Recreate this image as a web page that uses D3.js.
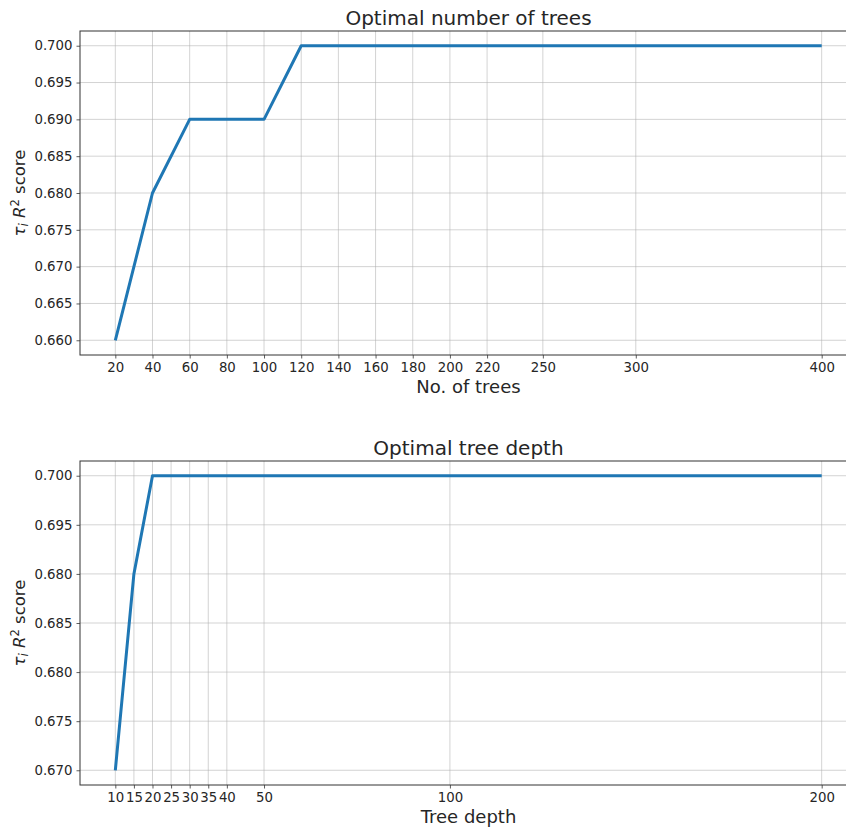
<!DOCTYPE html>
<html>

<head>
  <script src="https://d3js.org/d3.v7.min.js"></script>
  <style>
    body { margin: 0; background: #fff; }
    text { font-family: "DejaVu Sans", sans-serif; fill: #262626; }
    .grid line { stroke: #b0b0b0; stroke-width: 0.8; stroke-opacity: 0.7; }
  </style>
</head>

<body>
  <script>
    const width = 846;
    const height = 830;

    // chart 1: number of trees
    const treeCounts = [20, 40, 60, 80, 100, 120, 140, 160, 180, 200, 220, 250, 300, 400];
    const treeScores = [0.660, 0.680, 0.690, 0.690, 0.690, 0.700, 0.700, 0.700, 0.700, 0.700, 0.700, 0.700, 0.700, 0.700];
    const treeYTicks = [0.660, 0.665, 0.670, 0.675, 0.680, 0.685, 0.690, 0.695, 0.700];
    const treeYLabels = ["0.660", "0.665", "0.670", "0.675", "0.680", "0.685", "0.690", "0.695", "0.700"];

    // chart 2: tree depth
    const depths = [10, 15, 20, 25, 30, 35, 40, 50, 100, 200];
    const depthScores = [0.670, 0.690, 0.700, 0.700, 0.700, 0.700, 0.700, 0.700, 0.700, 0.700];
    const depthYTicks = [0.670, 0.675, 0.680, 0.685, 0.690, 0.695, 0.700];
    // labels as printed on the original figure
    const depthYLabels = ["0.670", "0.675", "0.680", "0.685", "0.680", "0.695", "0.700"];

    const svg = d3.select("body")
      .append("svg")
      .attr("width", width)
      .attr("height", height);

    function panel(opts) {
      const left = 80, right = 857;
      const g = svg.append("g");

      // 5% margins like matplotlib
      const xs = opts.x, ys = opts.y;
      const xr = d3.extent(xs), yr = d3.extent(ys);
      const xm = (xr[1] - xr[0]) * 0.05, ym = (yr[1] - yr[0]) * 0.05;
      const x = d3.scaleLinear().domain([xr[0] - xm, xr[1] + xm]).range([left, right]);
      const y = d3.scaleLinear().domain([yr[0] - ym, yr[1] + ym]).range([opts.bottom, opts.top]);

      // grid
      const grid = g.append("g").attr("class", "grid");
      grid.selectAll(".gx").data(xs).enter().append("line")
        .attr("x1", d => x(d)).attr("x2", d => x(d))
        .attr("y1", opts.top).attr("y2", opts.bottom);
      grid.selectAll(".gy").data(opts.yTicks).enter().append("line")
        .attr("x1", left).attr("x2", right)
        .attr("y1", d => y(d)).attr("y2", d => y(d));

      // axes
      const xAxis = d3.axisBottom(x).tickValues(xs).tickSize(3.5).tickPadding(4).tickFormat(d3.format("d"));
      const yAxis = d3.axisLeft(y).tickValues(opts.yTicks).tickSize(3.5).tickPadding(4)
        .tickFormat((d, i) => opts.yLabels[i]);

      const gx = g.append("g").attr("transform", `translate(0,${opts.bottom})`).call(xAxis);
      const gy = g.append("g").attr("transform", `translate(${left},0)`).call(yAxis);
      [gx, gy].forEach(a => {
        a.select(".domain").remove();
        a.selectAll(".tick line").attr("stroke", "#333").attr("stroke-width", 0.8);
        a.selectAll(".tick text").style("font-size", "13.3px").style("fill", "#262626");
      });

      // frame
      g.append("rect")
        .attr("x", left).attr("y", opts.top)
        .attr("width", right - left).attr("height", opts.bottom - opts.top)
        .attr("fill", "none").attr("stroke", "#333").attr("stroke-width", 1);

      // line
      g.append("path")
        .datum(xs.map((d, i) => [d, ys[i]]))
        .attr("fill", "none")
        .attr("stroke", "#1f77b4")
        .attr("stroke-width", 3)
        .attr("stroke-linejoin", "round")
        .attr("d", d3.line().x(d => x(d[0])).y(d => y(d[1])));

      const cx = (left + right) / 2;
      g.append("text").attr("x", cx).attr("y", opts.top - 6)
        .attr("text-anchor", "middle").style("font-size", "20px").text(opts.title);
      g.append("text").attr("x", cx).attr("y", opts.bottom + 38)
        .attr("text-anchor", "middle").style("font-size", "18px").text(opts.xLabel);

      const yl = g.append("text")
        .attr("transform", `translate(25,${(opts.top + opts.bottom) / 2}) rotate(-90)`)
        .attr("text-anchor", "middle").style("font-size", "16.5px");
      yl.append("tspan").style("font-style", "italic").text("τ");
      yl.append("tspan").style("font-style", "italic").style("font-size", "11.5px").attr("dy", 3).text("i");
      yl.append("tspan").attr("dy", -3).text(" ");
      yl.append("tspan").style("font-style", "italic").text("R");
      yl.append("tspan").style("font-size", "11.5px").attr("dy", -6).text("2");
      yl.append("tspan").attr("dy", 6).text(" score");
    }

    panel({
      x: treeCounts, y: treeScores, yTicks: treeYTicks, yLabels: treeYLabels,
      top: 31, bottom: 355, title: "Optimal number of trees", xLabel: "No. of trees"
    });

    panel({
      x: depths, y: depthScores, yTicks: depthYTicks, yLabels: depthYLabels,
      top: 461, bottom: 785, title: "Optimal tree depth", xLabel: "Tree depth"
    });
  </script>
</body>

</html>
